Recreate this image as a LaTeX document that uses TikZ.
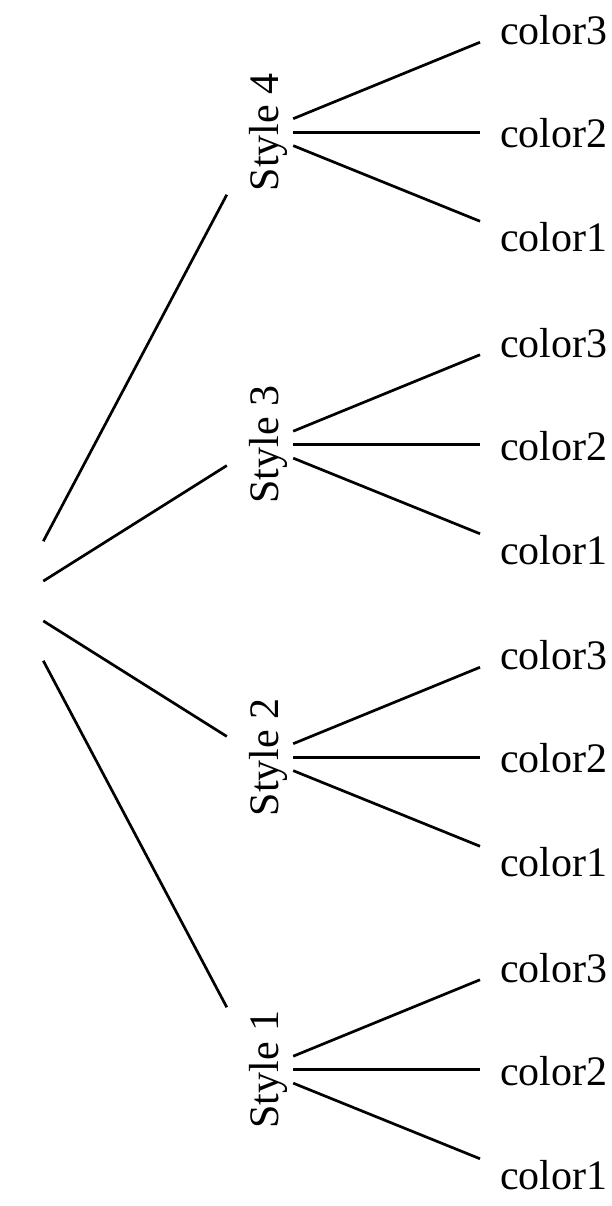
\documentclass[tikz,border=0pt]{standalone}
\usepackage{fontspec}
\setmainfont{Liberation Serif}
\usetikzlibrary{calc}
\begin{document}
\begin{tikzpicture}[x=1pt,y=-1pt,
  every node/.style={font=\fontsize{42}{50}\selectfont},
  stylebox/.style={rotate=90, inner xsep=14pt, inner ysep=6pt, text height=45pt, text depth=9pt},
  leafbox/.style={anchor=west, inner xsep=20pt, inner ysep=14pt},
  rootbox/.style={minimum width=63pt, minimum height=140pt, inner sep=0pt},
  conn/.style={line width=2.7pt}]
\useasboundingbox (0,0) rectangle (611,1206);
\node[rootbox] (root) at (11.6,601) {};
% style nodes
\node[stylebox] (s4) at (260,132.25) {Style 4};
\node[stylebox] (s3) at (260,444.75) {Style 3};
\node[stylebox] (s2) at (260,757.25) {Style 2};
\node[stylebox] (s1) at (260,1069.75) {Style 1};
% leaves
\node[leafbox] (l43) at (480,30.25) {color3};
\node[leafbox] (l42) at (480,133.25) {color2};
\node[leafbox] (l41) at (480,237.25) {color1};
\node[leafbox] (l33) at (480,342.75) {color3};
\node[leafbox] (l32) at (480,445.75) {color2};
\node[leafbox] (l31) at (480,549.75) {color1};
\node[leafbox] (l23) at (480,655.25) {color3};
\node[leafbox] (l22) at (480,758.25) {color2};
\node[leafbox] (l21) at (480,862.25) {color1};
\node[leafbox] (l13) at (480,967.75) {color3};
\node[leafbox] (l12) at (480,1070.75) {color2};
\node[leafbox] (l11) at (480,1174.75) {color1};
% root connectors
\draw[conn] (root) -- (s4);
\draw[conn] (root) -- (s3);
\draw[conn] (root) -- (s2);
\draw[conn] (root) -- (s1);
% leaf connectors
\foreach \s in {4,3,2,1}{
  \draw[conn] (s\s) -- ($(l\s3.west)+(0,12)$);
  \draw[conn] (s\s) -- ($(l\s2.west)+(0,-1)$);
  \draw[conn] (s\s) -- ($(l\s1.west)+(0,-16)$);
}
\end{tikzpicture}
\end{document}
